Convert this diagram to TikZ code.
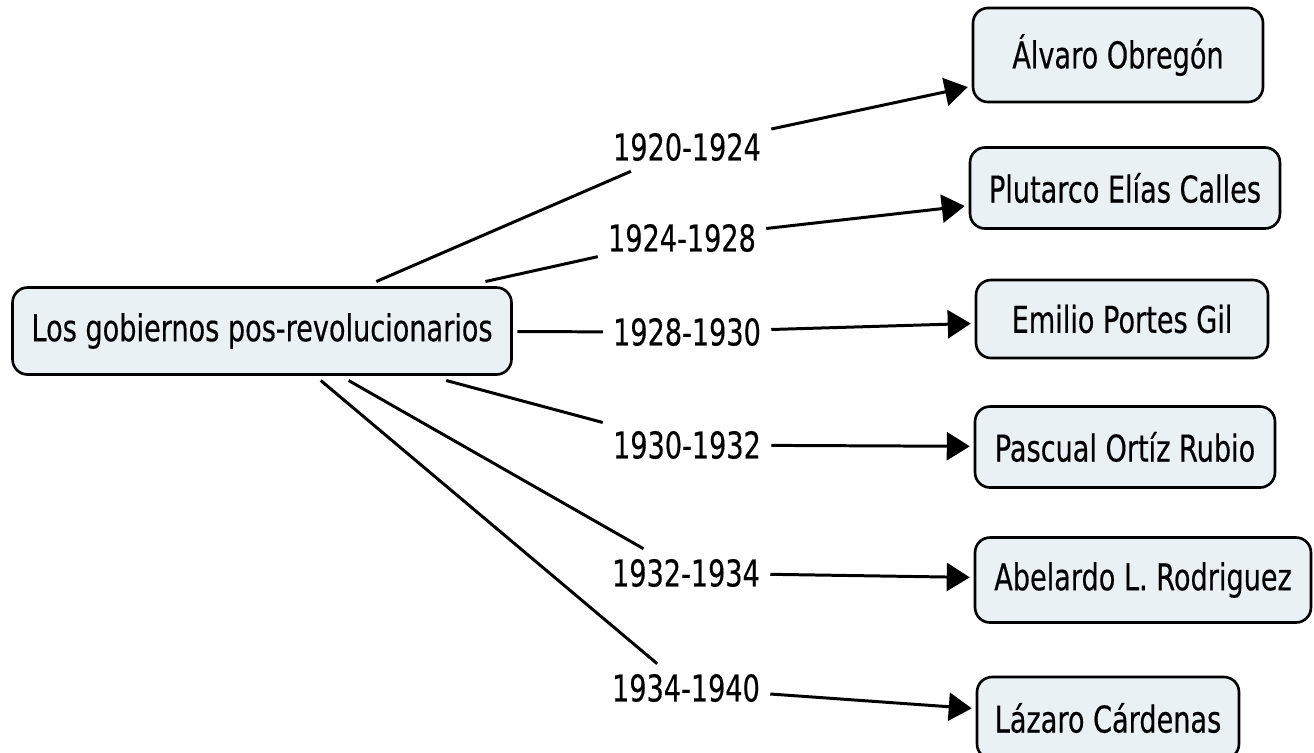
\documentclass[tikz,border=0pt]{standalone}
\usepackage{fontspec}
\setmainfont{DejaVu Sans}[FakeStretch=0.735, FakeBold=0.4]
\usetikzlibrary{arrows.meta}
\definecolor{cajafondo}{HTML}{E9F1F5}

\begin{document}
\begin{tikzpicture}[
        x=0.02cm, y=-0.02cm,
        font=\fontsize{21}{25}\selectfont,
        concepto/.style={draw, line width=1.5pt, fill=cajafondo,
            rounded corners=0.3cm, minimum height=1.64cm, outer sep=3pt},
        periodo/.style={inner sep=0.2cm},
        linea/.style={line width=1.7pt},
        flecha/.style={line width=1.7pt,
            -{Triangle[length=0.46cm, width=0.56cm]}}
    ]
    \useasboundingbox (0,0) rectangle (1314,752);

    \node[
        concepto,
        minimum width=9.98cm,
        minimum height=1.74cm,
        outer sep=0.12cm,
        name=gob
    ] at (262,331) {Los gobiernos pos-revolucionarios};

    \node[
        concepto,
        minimum width=5.8cm,
        minimum height=1.88cm,
        name=obregon
    ] at (1118,55) {Álvaro Obregón};
    \node[
        concepto,
        minimum width=6.2cm,
        minimum height=1.62cm,
        name=calles
    ] at (1125,188) {Plutarco Elías Calles};
    \node[
        concepto,
        minimum width=5.84cm,
        minimum height=1.56cm,
        name=portes
    ] at (1122,319) {Emilio Portes Gil};
    \node[
        concepto,
        minimum width=6.0cm,
        minimum height=1.62cm,
        name=ortiz
    ] at (1125,447) {Pascual Ortíz Rubio};
    \node[
        concepto,
        minimum width=6.72cm,
        minimum height=1.7cm,
        name=rodriguez
    ] at (1143,580) {Abelardo L. Rodriguez};
    \node[
        concepto,
        minimum width=5.24cm,
        minimum height=1.64cm,
        name=cardenas
    ] at (1108,718) {Lázaro Cárdenas};

    \node[periodo, name=p1] at (687,147) {1920-1924};
    \node[periodo, name=p2] at (682,238) {1924-1928};
    \node[periodo, name=p3] at (687,332) {1928-1930};
    \node[periodo, name=p4] at (687,445) {1930-1932};
    \node[periodo, name=p5] at (686,573) {1932-1934};
    \node[periodo, name=p6] at (686,688) {1934-1940};

    \draw[linea] (gob) -- (p1);
    \draw[linea] (gob) -- (p2);
    \draw[linea] (gob) -- (p3);
    \draw[linea] (gob) -- (p4);
    \draw[linea] (gob) -- (p5);
    \draw[linea] (gob) -- (p6);

    \draw[flecha] (p1) -- (obregon);
    \draw[flecha] (p2) -- (calles);
    \draw[flecha] (p3) -- (portes);
    \draw[flecha] (p4) -- (ortiz);
    \draw[flecha] (p5) -- (rodriguez);
    \draw[flecha] (p6) -- (cardenas);
\end{tikzpicture}
\end{document}
